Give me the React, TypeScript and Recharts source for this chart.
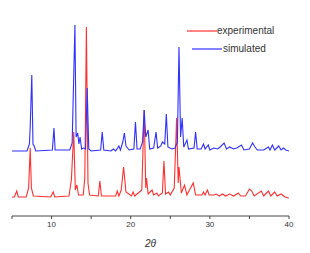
import React from 'react';
import { LineChart, Line, XAxis, YAxis } from 'recharts';

const expTheta = [5.0, 5.3, 5.6, 5.8, 6.8, 7.1, 7.3, 7.45, 7.7, 9.9, 10.2, 10.4, 12.2, 12.5, 12.8, 13.0, 13.2, 13.4, 14.0, 14.2, 14.4, 14.6, 14.8, 15.9, 16.1, 16.3, 18.1, 18.3, 18.5, 18.8, 19.1, 19.4, 20.1, 20.3, 20.5, 21.4, 21.7, 21.9, 22.0, 22.2, 22.7, 22.9, 23.3, 23.5, 24.0, 24.2, 24.4, 24.8, 25.0, 25.5, 25.8, 26.0, 26.1, 26.4, 26.8, 27.1, 27.9, 28.2, 29.0, 29.2, 29.4, 29.7, 29.9, 30.5, 30.8, 31.2, 31.6, 32.0, 32.5, 33.0, 33.6, 33.9, 34.5, 35.0, 35.3, 35.6, 36.5, 36.8, 37.4, 37.7, 38.2, 38.5, 39.0, 39.5, 40.0];
const expIntensity = [1, 1, 7, 1, 1, 10, 50, 10, 2, 1, 6, 1, 2, 18, 66, 8, 13, 3, 3, 20, 171, 15, 3, 2, 17, 2, 2, 7, 2, 8, 31, 6, 2, 6, 2, 8, 88, 10, 20, 4, 8, 3, 5, 2, 5, 37, 4, 6, 3, 10, 80, 15, 31, 5, 13, 3, 15, 3, 3, 6, 3, 8, 3, 3, 4, 2, 4, 2, 4, 2, 5, 2, 2, 9, 7, 2, 7, 2, 7, 2, 6, 2, 4, 1, 0];

const simTheta = [5.0, 6.9, 7.2, 7.3, 7.5, 7.65, 7.8, 8.0, 10.1, 10.3, 10.45, 12.3, 12.6, 12.95, 13.1, 13.3, 13.45, 13.6, 13.8, 14.0, 14.3, 14.5, 14.7, 15.0, 16.2, 16.4, 16.6, 17.5, 17.8, 18.1, 18.5, 18.7, 19.0, 19.2, 19.4, 19.8, 20.4, 20.6, 20.8, 21.2, 21.5, 21.7, 21.9, 22.2, 22.4, 22.9, 23.2, 23.4, 23.8, 24.0, 24.3, 24.5, 24.7, 25.2, 25.6, 25.9, 26.1, 26.3, 26.5, 26.7, 27.1, 27.3, 28.0, 28.2, 28.4, 28.9, 29.2, 29.4, 29.8, 30.0, 30.5, 31.0, 31.3, 31.8, 32.1, 32.5, 33.0, 33.4, 34.0, 34.3, 35.0, 35.4, 35.7, 36.0, 36.8, 37.4, 37.6, 37.9, 38.2, 38.7, 39.0, 39.3, 39.6, 40.0];
const simIntensity = [1, 1, 8, 25, 77, 8, 6, 1, 2, 24, 2, 2, 9, 127, 15, 19, 8, 15, 3, 4, 3, 64, 3, 1, 2, 20, 2, 1, 3, 1, 6, 2, 10, 19, 6, 2, 3, 30, 3, 3, 10, 42, 15, 22, 3, 4, 20, 4, 6, 10, 8, 38, 5, 3, 4, 10, 105, 15, 34, 5, 12, 3, 4, 20, 3, 3, 8, 3, 7, 2, 4, 3, 5, 9, 3, 5, 3, 4, 7, 2, 3, 9, 5, 2, 2, 5, 2, 7, 2, 6, 2, 4, 2, 1];

const xTicks = [5, 10, 15, 20, 25, 30, 35, 40];
const seriesNames = ['experimental', 'simulated'];
const seriesColors = ['#ff3030', '#3030ff'];

const expData = expTheta.map((x, i) => ({ x, y: expIntensity[i] }));
const simData = simTheta.map((x, i) => ({ x, y: simIntensity[i] }));

const font = '"Liberation Sans", Arial, sans-serif';

const LegendBox = () => (
  <div style={{ position: 'absolute', left: 187, top: 22, fontFamily: font, fontSize: 10, color: '#333' }}>
    {seriesNames.map((name, i) => (
      <div
        key={name}
        style={{ display: 'flex', alignItems: 'center', height: 18, marginLeft: i === 0 ? 0 : 5 }}
      >
        <svg width={30} height={4} style={{ display: 'block' }}>
          <line x1={0} y1={2} x2={30} y2={2} stroke={seriesColors[i]} strokeWidth={1.2} />
        </svg>
        <span style={{ marginLeft: i === 0 ? 0 : 1, lineHeight: '10px' }}>{name}</span>
      </div>
    ))}
  </div>
);

export default function App() {
  return (
    <div style={{ position: 'absolute', left: 0, top: 0, width: 310, height: 253, background: '#fff' }}>
      <LineChart width={310} height={253} margin={{ top: 16, right: 21, bottom: 0, left: 12 }}>
        <XAxis
          type="number"
          dataKey="x"
          domain={[5, 40]}
          ticks={xTicks}
          allowDataOverflow
          tickFormatter={(v: number) => (v % 10 === 0 ? String(v) : '')}
          height={37}
          stroke="#444"
          tickSize={3}
          tick={{ fontSize: 8, fill: '#333', fontFamily: font }}
          label={{
            value: '2θ',
            position: 'insideBottom',
            offset: 6,
            style: { fontSize: 10, fontStyle: 'italic', fill: '#333', fontFamily: font },
          }}
        />
        <YAxis yAxisId="exp" hide domain={[-18, 182]} allowDataOverflow type="number" />
        <YAxis yAxisId="sim" hide domain={[-64, 136]} allowDataOverflow type="number" />
        <Line
          yAxisId="exp"
          data={expData}
          dataKey="y"
          name={seriesNames[0]}
          type="linear"
          stroke={seriesColors[0]}
          strokeWidth={1.1}
          dot={false}
          isAnimationActive={false}
        />
        <Line
          yAxisId="sim"
          data={simData}
          dataKey="y"
          name={seriesNames[1]}
          type="linear"
          stroke={seriesColors[1]}
          strokeWidth={1.1}
          dot={false}
          isAnimationActive={false}
        />
      </LineChart>
      <LegendBox />
    </div>
  );
}
